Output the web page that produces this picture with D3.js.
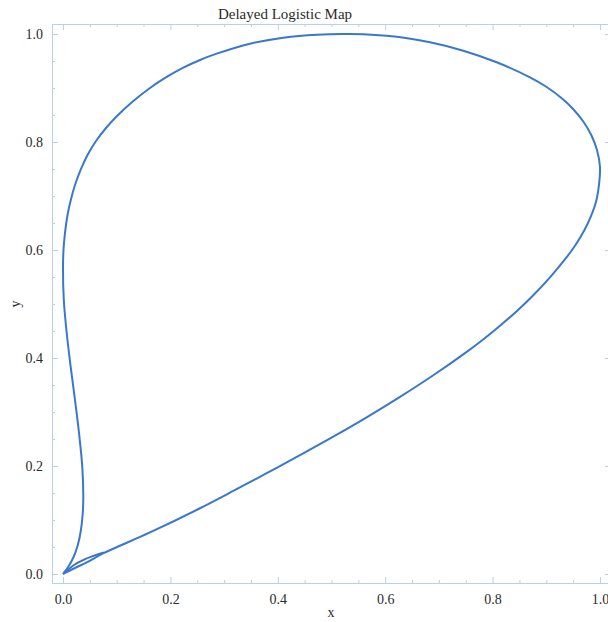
<!DOCTYPE html>
<html>
<head>
<meta charset="utf-8">
<script src="https://cdn.jsdelivr.net/npm/d3@7"></script>
<style>
  html, body { margin: 0; padding: 0; background: #fff; }
  svg { display: block; }
</style>
</head>
<body>
<svg id="chart" width="608" height="622"></svg>
<script>
// ---- data ----
const title = "Delayed Logistic Map";
const xLabel = "x";
const yLabel = "y";
const majorTicks = [0, 0.2, 0.4, 0.6, 0.8, 1.0];
const tickLabels = ["0.0", "0.2", "0.4", "0.6", "0.8", "1.0"];
const minorTicks = [0.05, 0.1, 0.15, 0.25, 0.3, 0.35, 0.45, 0.5, 0.55, 0.65, 0.7, 0.75, 0.85, 0.9, 0.95];

// main closed trajectory: up the left side, over the top, down the right, back along the lower branch
const mainX = [0.000, 0.0102, 0.0197, 0.0276, 0.0331, 0.0365, 0.0378, 0.0359, 0.0298, 0.0223, 0.0143, 0.0069,
  0.0015, 0.0000, 0.0009, 0.0037, 0.0084, 0.0145, 0.0223, 0.0326, 0.0456, 0.0615, 0.0801, 0.1006,
  0.1304, 0.1620, 0.1931, 0.2240, 0.2551, 0.2862, 0.3482, 0.4102, 0.4724, 0.5345, 0.6214, 0.6834,
  0.7454, 0.8076, 0.8696, 0.9007, 0.9316, 0.9503, 0.9689, 0.9842, 0.9944, 1.0000, 0.9981, 0.9935,
  0.9842, 0.9711, 0.9544, 0.9339, 0.9069, 0.8758, 0.8449, 0.8138, 0.7830, 0.7518, 0.6896, 0.6276,
  0.5655, 0.5033, 0.4413, 0.3793, 0.3171, 0.2551, 0.1620, 0.0745, 0.0441, 0.0223, 0.000];
const mainY = [0.000, 0.0139, 0.0315, 0.0537, 0.0796, 0.1093, 0.1426, 0.1981, 0.2611, 0.3222, 0.3833, 0.4463,
  0.5074, 0.5685, 0.6000, 0.6315, 0.6648, 0.6926, 0.7204, 0.7481, 0.7759, 0.8019, 0.8259, 0.8481,
  0.8754, 0.9000, 0.9204, 0.9376, 0.9519, 0.9636, 0.9821, 0.9932, 0.9988, 1.0000, 0.9950, 0.9846,
  0.9691, 0.9476, 0.9198, 0.9019, 0.8787, 0.8607, 0.8380, 0.8120, 0.7852, 0.7537, 0.7204, 0.6926,
  0.6648, 0.6370, 0.6093, 0.5815, 0.5494, 0.5163, 0.4867, 0.4598, 0.4348, 0.4113, 0.3680, 0.3280,
  0.2902, 0.2544, 0.2202, 0.1867, 0.1537, 0.1217, 0.0769, 0.0380, 0.0213, 0.0111, 0.000];

// small initial loop near the origin
const lensX = [0.000, 0.022, 0.044, 0.063, 0.076];
const lensY = [0.000, 0.0176, 0.0287, 0.036, 0.040];

// ---- layout ----
const svg = d3.select("#chart");
const frame = { left: 52, right: 611, top: 24, bottom: 583 };
const x = d3.scaleLinear().domain([-0.0205, 1.0205]).range([frame.left, frame.right]);
const y = d3.scaleLinear().domain([-0.0167, 1.0185]).range([frame.bottom, frame.top]);

const frameColor = "#bcd0e4";
const textColor = "#2b2b2b";
const serif = "'Liberation Serif', 'DejaVu Serif', 'Times New Roman', serif";

function styleAxis(g) {
  g.select(".domain").attr("stroke", frameColor).attr("stroke-width", 1);
  g.selectAll(".tick line").attr("stroke", frameColor).attr("stroke-width", 1);
  g.selectAll(".tick text").attr("fill", textColor)
    .style("font-family", serif).style("font-size", "14px");
}

const fmt = d => tickLabels[majorTicks.indexOf(d)];

// bottom
svg.append("g").attr("transform", `translate(0,${frame.bottom})`)
  .call(d3.axisBottom(x).tickValues(majorTicks).tickFormat(fmt).tickSizeInner(-6).tickSizeOuter(0).tickPadding(11))
  .call(styleAxis);
svg.append("g").attr("transform", `translate(0,${frame.bottom})`)
  .call(d3.axisBottom(x).tickValues(minorTicks).tickFormat("").tickSizeInner(-3).tickSizeOuter(0))
  .call(styleAxis);
// left
svg.append("g").attr("transform", `translate(${frame.left},0)`)
  .call(d3.axisLeft(y).tickValues(majorTicks).tickFormat(fmt).tickSizeInner(-6).tickSizeOuter(0).tickPadding(9))
  .call(styleAxis);
svg.append("g").attr("transform", `translate(${frame.left},0)`)
  .call(d3.axisLeft(y).tickValues(minorTicks).tickFormat("").tickSizeInner(-3).tickSizeOuter(0))
  .call(styleAxis);
// top
svg.append("g").attr("transform", `translate(0,${frame.top})`)
  .call(d3.axisTop(x).tickValues(majorTicks).tickFormat("").tickSizeInner(-6).tickSizeOuter(0))
  .call(styleAxis);
svg.append("g").attr("transform", `translate(0,${frame.top})`)
  .call(d3.axisTop(x).tickValues(minorTicks).tickFormat("").tickSizeInner(-3).tickSizeOuter(0))
  .call(styleAxis);
// right
svg.append("g").attr("transform", `translate(${frame.right},0)`)
  .call(d3.axisRight(y).tickValues(majorTicks).tickFormat("").tickSizeInner(-6).tickSizeOuter(0))
  .call(styleAxis);

// ---- curves ----
const line = d3.line().x(d => x(d[0])).y(d => y(d[1])).curve(d3.curveCatmullRom.alpha(0.5));
const mainPts = mainX.map((v, i) => [v, mainY[i]]);
const lensPts = lensX.map((v, i) => [v, lensY[i]]);

svg.append("path").attr("d", line(lensPts))
  .attr("fill", "none").attr("stroke", "#3a6fc4").attr("stroke-width", 1.8);
svg.append("path").attr("d", line(mainPts))
  .attr("fill", "none").attr("stroke", "#3a78cc").attr("stroke-width", 2)
  .attr("stroke-linejoin", "round");

// ---- texts ----
svg.append("text").attr("x", 285).attr("y", 19).attr("text-anchor", "middle")
  .attr("fill", textColor).style("font-family", serif).style("font-size", "15px")
  .text(title);
svg.append("text").attr("x", 331).attr("y", 617).attr("text-anchor", "middle")
  .attr("fill", textColor).style("font-family", serif).style("font-size", "14px")
  .text(xLabel);
svg.append("text").attr("transform", "translate(20,304) rotate(-90)").attr("text-anchor", "middle")
  .attr("fill", textColor).style("font-family", serif).style("font-size", "14px")
  .text(yLabel);
</script>
</body>
</html>
